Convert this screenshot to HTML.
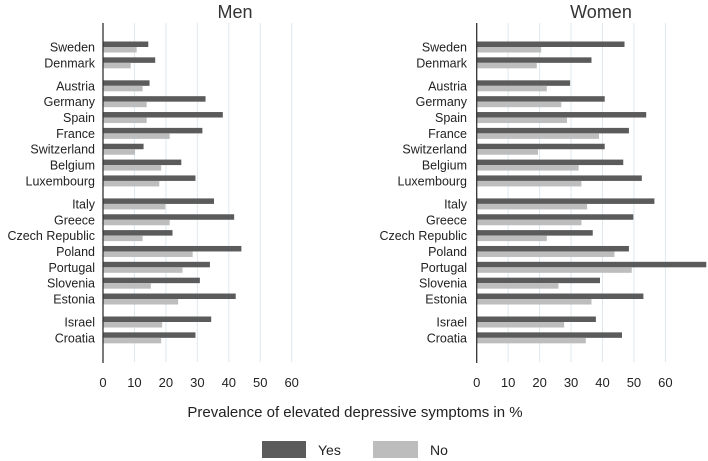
<!DOCTYPE html>
<html><head><meta charset="utf-8">
<style>
html,body{margin:0;padding:0;background:#fff;}
svg{display:block;font-family:"Liberation Sans",sans-serif;}
</style></head>
<body>
<svg id="chart" width="708" height="461" viewBox="0 0 708 461">
  <text x="235" y="18" font-size="18" text-anchor="middle" fill="#333">Men</text>
  <text x="601" y="18" font-size="18" text-anchor="middle" fill="#333">Women</text>
  <text x="355" y="417" font-size="15" text-anchor="middle" fill="#222">Prevalence of elevated depressive symptoms in %</text>
  <g>
    <rect x="262" y="441" width="44" height="17" fill="#5b5b5b"></rect>
    <text x="318" y="455" font-size="14" fill="#222">Yes</text>
    <rect x="373" y="441" width="45" height="17" fill="#bdbdbd"></rect>
    <text x="430" y="455" font-size="14" fill="#222">No</text>
  </g>
  <g id="men"></g>
  <g id="women"></g>
</svg>
<script>
const countries = ["Sweden","Denmark","Austria","Germany","Spain","France","Switzerland","Belgium","Luxembourg","Italy","Greece","Czech Republic","Poland","Portugal","Slovenia","Estonia","Israel","Croatia"];
const groups = [0,0,1,1,1,1,1,1,1,2,2,2,2,2,2,2,3,3];
const menYes = [14.4,16.6,14.8,32.6,38.1,31.6,12.9,24.9,29.4,35.3,41.7,22.1,44.0,34.0,30.8,42.2,34.4,29.4];
const menNo = [10.7,8.8,12.6,13.9,13.9,21.2,10.2,18.5,17.9,19.8,21.2,12.6,28.5,25.3,15.2,23.9,18.8,18.5];
const womenYes = [47.0,36.5,29.7,40.7,53.9,48.4,40.7,46.6,52.5,56.5,49.8,36.9,48.4,73.0,39.2,53.0,37.9,46.2];
const womenNo = [20.5,19.1,22.3,26.9,28.7,38.9,19.5,32.4,33.3,35.1,33.3,22.3,43.8,49.3,26.0,36.5,27.8,34.7];
const ticks = [0,10,20,30,40,50,60];

const NS = "http://www.w3.org/2000/svg";
function mk(tag, attrs, parent){
  const e = document.createElementNS(NS, tag);
  for (const k in attrs) e.setAttribute(k, attrs[k]);
  parent.appendChild(e);
  return e;
}
function yPos(i){ return 47 + 15.85 * (i + 0.45 * groups[i]); }

function panel(gid, x0, labelX, yes, no, prefix){
  const g = document.getElementById(gid);
  const xs = v => x0 + v * 3.145;
  ticks.forEach(t => {
    if (t > 0) {
      const gl = mk("line", {x1:xs(t), x2:xs(t), y1:23, y2:362, stroke:"#dde9ef", "stroke-width":1}, g);
      
      
    }
    const tl = mk("text", {x:xs(t), y:387, "font-size":13, "text-anchor":"middle", fill:"#222"}, g);
    tl.textContent = t;
    
    
  });
  countries.forEach((c, i) => {
    const y = yPos(i);
    const b1 = mk("rect", {x:x0, y:y-5.5, width:xs(yes[i])-x0, height:5.5, fill:"#5b5b5b"}, g);
    
    
    const b2 = mk("rect", {x:x0, y:y, width:xs(no[i])-x0, height:5.5, fill:"#bdbdbd"}, g);
    
    
    const t = mk("text", {x:labelX, y:y+4.5, "font-size":12.5, "text-anchor":"end", fill:"#222"}, g);
    t.textContent = c;
    
    
  });
  const ax = mk("line", {x1:x0, x2:x0, y1:23, y2:363, stroke:"#333", "stroke-width":1.3}, g);
  
  
}
panel("men", 103, 95, menYes, menNo, "men");
panel("women", 476.7, 467, womenYes, womenNo, "women");
</script>
</body></html>
